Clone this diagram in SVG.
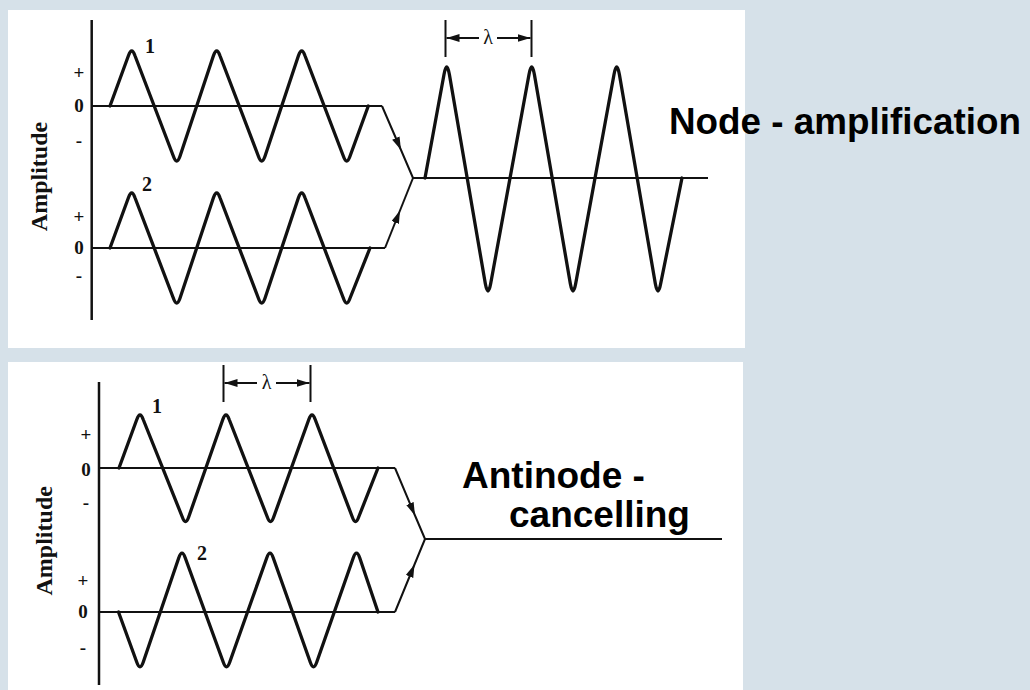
<svg xmlns="http://www.w3.org/2000/svg" width="1030" height="690" viewBox="0 0 1030 690">
<style>
.panel{fill:#ffffff}
.wave{fill:none;stroke:#111;stroke-width:3.3;stroke-linejoin:round;stroke-linecap:round}
.base{fill:none;stroke:#111;stroke-width:2}
.axis{fill:none;stroke:#111;stroke-width:2.5}
.conn{fill:none;stroke:#111;stroke-width:2;marker-mid:url(#ah)}
.tick{fill:none;stroke:#111;stroke-width:2}
.dim{fill:none;stroke:#111;stroke-width:2;marker-end:url(#ah)}
.lbl{font-family:"Liberation Serif","Times New Roman",serif;font-weight:bold;font-size:20px;fill:#111}
.sign{font-family:"Liberation Serif","Times New Roman",serif;font-weight:bold;font-size:19px;fill:#111;text-anchor:middle}
.amp{font-family:"Liberation Serif","Times New Roman",serif;font-weight:bold;font-size:24px;fill:#111;text-anchor:middle}
.lam{font-family:"Liberation Serif","Times New Roman",serif;font-size:20px;fill:#111;text-anchor:middle}
.title{font-family:"Liberation Sans",Arial,sans-serif;font-weight:bold;font-size:37px;fill:#000}
</style>
<defs>
<marker id="ah" markerUnits="userSpaceOnUse" markerWidth="14" markerHeight="9" refX="13" refY="4" orient="auto">
<path d="M0,0 L13,4 L0,8 z" fill="#111"/>
</marker>
</defs>
<rect x="0" y="0" width="1030" height="690" fill="#d6e1e9"/>
<rect class="panel" x="8" y="10" width="737" height="338"/>
<rect class="panel" x="8" y="362" width="735" height="328"/>

<g id="panel-top">
<line class="axis" x1="91.7" y1="20" x2="91.7" y2="320"/>
<text class="amp" transform="translate(47,176.5) rotate(-90)">Amplitude</text>
<text class="sign" x="79" y="79">+</text>
<text class="sign" x="79" y="112">0</text>
<text class="sign" x="79" y="147">-</text>
<text class="sign" x="79" y="223">+</text>
<text class="sign" x="79" y="254">0</text>
<text class="sign" x="79" y="282">-</text>
<g id="top-wave1">
<line class="base" x1="91.7" y1="106" x2="382" y2="106"/>
<path class="wave" d="M110,106 L128.5,55.5 Q131.7,46.5 134.9,55.5 L173.5,156.5 Q176.7,165.5 179.9,156.5 L213.5,55.5 Q216.7,46.5 219.9,55.5 L258.5,156.5 Q261.7,165.5 264.9,156.5 L298.5,55.5 Q301.7,46.5 304.9,55.5 L343.5,156.5 Q346.7,165.5 349.9,156.5 L368.3,106"/>
<text class="lbl" x="145" y="53">1</text>
</g>
<g id="top-wave2">
<line class="base" x1="91.7" y1="248" x2="385" y2="248"/>
<path class="wave" d="M110,248 L128.5,197.5 Q131.7,188.5 134.9,197.5 L173.5,298.5 Q176.7,307.5 179.9,298.5 L213.5,197.5 Q216.7,188.5 219.9,197.5 L258.5,298.5 Q261.7,307.5 264.9,298.5 L298.5,197.5 Q301.7,188.5 304.9,197.5 L343.5,298.5 Q346.7,307.5 349.9,298.5 L370,248"/>
<text class="lbl" x="142" y="191">2</text>
</g>
<g id="top-result">
<line class="base" x1="413" y1="178" x2="708" y2="178"/>
<path class="wave" d="M425,178 L444,74.5 Q446.7,59.5 449.4,74.5 L485.3,283.5 Q488,298.5 490.7,283.5 L529,74.5 Q531.7,59.5 534.4,74.5 L570.3,283.5 Q573,298.5 575.7,283.5 L614,74.5 Q616.7,59.5 619.4,74.5 L655.3,283.5 Q658,298.5 660.7,283.5 L682,178"/>
<line class="tick" x1="445.5" y1="20" x2="445.5" y2="57"/>
<line class="tick" x1="531.5" y1="20" x2="531.5" y2="57"/>
<line class="dim" x1="479" y1="38" x2="446.5" y2="38"/>
<line class="dim" x1="497" y1="38" x2="530.5" y2="38"/>
<text class="lam" x="488" y="44">λ</text>
</g>
<text id="label-node" class="title" x="669" y="134" textLength="352" lengthAdjust="spacingAndGlyphs">Node - amplification</text>
</g>

<g id="panel-bottom">
<line class="axis" x1="99" y1="382" x2="99" y2="685"/>
<text class="amp" transform="translate(52,540.8) rotate(-90)">Amplitude</text>
<text class="sign" x="86" y="441">+</text>
<text class="sign" x="86" y="476">0</text>
<text class="sign" x="86" y="509">-</text>
<text class="sign" x="83" y="587">+</text>
<text class="sign" x="83" y="618">0</text>
<text class="sign" x="83" y="654">-</text>
<g id="bottom-wave1">
<line class="base" x1="99" y1="468" x2="395" y2="468"/>
<path class="wave" d="M119,468 L136.8,419.5 Q140,410.5 143.2,419.5 L182.3,517 Q185.5,526 188.7,517 L222.8,419.5 Q226,410.5 229.2,419.5 L267.3,517 Q270.5,526 273.7,517 L308.8,419.5 Q312,410.5 315.2,419.5 L352.3,517 Q355.5,526 358.7,517 L378,468"/>
<text class="lbl" x="152" y="413">1</text>
</g>
<g id="bottom-wave2">
<line class="base" x1="99" y1="612" x2="395" y2="612"/>
<path class="wave" d="M118.5,612 L136.8,662.3 Q140,671.3 143.2,662.3 L178.8,557.7 Q182,548.7 185.2,557.7 L223.3,662.3 Q226.5,671.3 229.7,662.3 L266.8,557.7 Q270,548.7 273.2,557.7 L310.3,662.3 Q313.5,671.3 316.7,662.3 L353.3,557.7 Q356.5,548.7 359.7,557.7 L378,612"/>
<text class="lbl" x="197" y="560">2</text>
</g>
<g id="bottom-result">
<line class="base" x1="425" y1="539" x2="722" y2="539"/>
<line class="tick" x1="223.5" y1="365" x2="223.5" y2="402"/>
<line class="tick" x1="310.5" y1="365" x2="310.5" y2="402"/>
<line class="dim" x1="257" y1="383" x2="224.5" y2="383"/>
<line class="dim" x1="276" y1="383" x2="309.5" y2="383"/>
<text class="lam" x="266.5" y="389">λ</text>
</g>
<text id="label-antinode" class="title" x="462" y="488">Antinode -</text>
<text id="label-cancelling" class="title" x="509" y="527">cancelling</text>
</g>

<g id="connectors">
<path class="conn" d="M382,106 L401,150 L413,178"/>
<path class="conn" d="M385,248 L400,210.5 L413,178"/>
<path class="conn" d="M395,468 L415,515.5 L425,539"/>
<path class="conn" d="M395,612 L414.5,564.5 L425,539"/>
</g>
</svg>
